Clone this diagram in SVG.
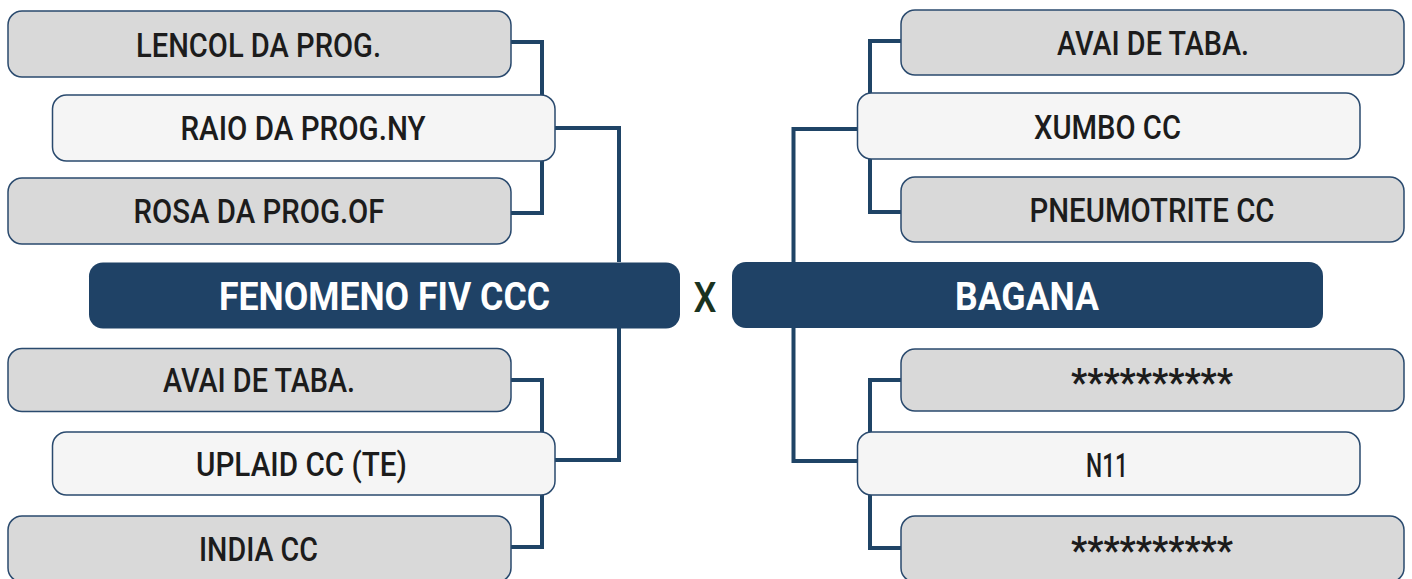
<svg xmlns="http://www.w3.org/2000/svg" width="1412" height="579" viewBox="0 0 1412 579">
<style>
.g{fill:#d9d9d9;stroke:#2a4a6e;stroke-width:1.5}
.w{fill:#f5f5f5;stroke:#2a4a6e;stroke-width:1.5}
.d{fill:#1f4266}
.t{font-family:Roboto,"Liberation Sans",sans-serif;font-weight:500;font-size:33px;fill:#1c1c1c;text-anchor:middle}
.s{font-family:Roboto,"Liberation Sans",sans-serif;font-weight:700;font-size:38px;fill:#1c1c1c;text-anchor:middle}
.b{font-family:Roboto,"Liberation Sans",sans-serif;font-weight:700;font-size:38px;fill:#ffffff;text-anchor:middle}
.x{font-family:Roboto,"Liberation Sans",sans-serif;font-weight:500;font-size:42px;fill:#1a3320;text-anchor:middle}
.c{fill:none;stroke:#1f4466;stroke-width:4;stroke-linejoin:miter}
</style>
<rect width="1412" height="579" fill="#ffffff"/>
<g id="connectors" class="c">
<path d="M511,42 H542 V95"/>
<path d="M511,213 H542 V161"/>
<path d="M555,128 H619 V262"/>
<path d="M619,328 V460 H555"/>
<path d="M511,380 H542 V432"/>
<path d="M511,547 H542 V495"/>
<path d="M901,41 H870 V93"/>
<path d="M901,212 H870 V159"/>
<path d="M857,129 H793.5 V262"/>
<path d="M793.5,328 V461 H857"/>
<path d="M901,380 H870 V432"/>
<path d="M901,548 H870 V495"/>
</g>
<g id="n-lencol"><rect class="g" x="8" y="11" width="503" height="66" rx="14"/><text class="t" x="258.5" y="56.5" textLength="245" lengthAdjust="spacingAndGlyphs">LENCOL DA PROG.</text></g>
<g id="n-raio"><rect class="w" x="52.5" y="95" width="502.5" height="66" rx="14"/><text class="t" x="303" y="140" textLength="245" lengthAdjust="spacingAndGlyphs">RAIO DA PROG.NY</text></g>
<g id="n-rosa"><rect class="g" x="8" y="178" width="503" height="66" rx="14"/><text class="t" x="259" y="223" textLength="251" lengthAdjust="spacingAndGlyphs">ROSA DA PROG.OF</text></g>
<g id="n-fenomeno"><rect class="d" x="89" y="262.5" width="591" height="66" rx="14"/><text class="b" x="384.5" y="310" textLength="331" lengthAdjust="spacingAndGlyphs">FENOMENO FIV CCC</text></g>
<g id="n-avai-l"><rect class="g" x="8" y="348.5" width="503" height="63" rx="14"/><text class="t" x="259" y="392" textLength="192" lengthAdjust="spacingAndGlyphs">AVAI DE TABA.</text></g>
<g id="n-uplaid"><rect class="w" x="52.5" y="432" width="502.5" height="63" rx="14"/><text class="t" x="301.5" y="476" textLength="211" lengthAdjust="spacingAndGlyphs">UPLAID CC (TE)</text></g>
<g id="n-india"><rect class="g" x="8" y="516" width="503" height="66" rx="14"/><text class="t" x="258.5" y="561" textLength="119" lengthAdjust="spacingAndGlyphs">INDIA CC</text></g>
<text class="x" x="705" y="312" textLength="23" lengthAdjust="spacingAndGlyphs">X</text>
<g id="n-avai-r"><rect class="g" x="901" y="10" width="503" height="65" rx="14"/><text class="t" x="1153" y="55" textLength="192" lengthAdjust="spacingAndGlyphs">AVAI DE TABA.</text></g>
<g id="n-xumbo"><rect class="w" x="857.5" y="93" width="502.5" height="66" rx="14"/><text class="t" x="1107.5" y="138.5" textLength="147" lengthAdjust="spacingAndGlyphs">XUMBO CC</text></g>
<g id="n-pneumo"><rect class="g" x="901" y="177" width="503" height="65" rx="14"/><text class="t" x="1152" y="222" textLength="245" lengthAdjust="spacingAndGlyphs">PNEUMOTRITE CC</text></g>
<g id="n-bagana"><rect class="d" x="732" y="262" width="591" height="66" rx="14"/><text class="b" x="1027" y="310" textLength="144" lengthAdjust="spacingAndGlyphs">BAGANA</text></g>
<g id="n-star1"><rect class="g" x="901" y="349" width="503" height="62" rx="14"/><text class="s" x="1152" y="396" textLength="162" lengthAdjust="spacingAndGlyphs">**********</text></g>
<g id="n-n11"><rect class="w" x="857.5" y="432" width="502.5" height="63" rx="14"/><text class="t" x="1107" y="476.5" textLength="42" lengthAdjust="spacingAndGlyphs">N11</text></g>
<g id="n-star2"><rect class="g" x="901" y="516" width="503" height="66" rx="14"/><text class="s" x="1152" y="564" textLength="162" lengthAdjust="spacingAndGlyphs">**********</text></g>
</svg>
